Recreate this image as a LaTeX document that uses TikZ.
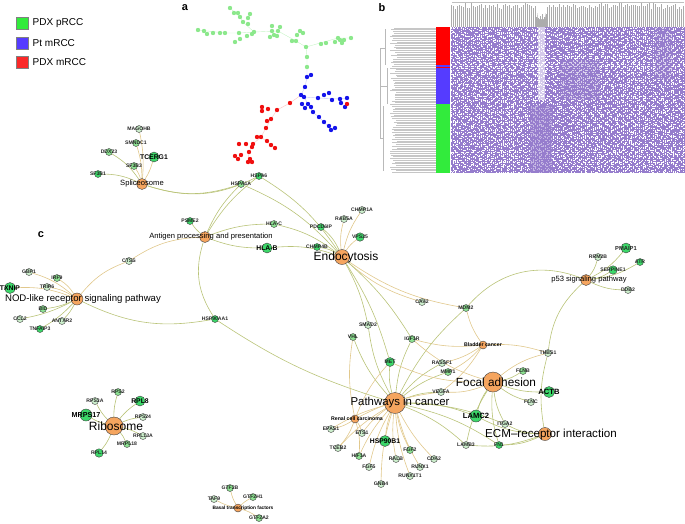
\documentclass[tikz,border=0pt]{standalone}
\usepackage{fontspec}
\setmainfont{Liberation Sans}
\usetikzlibrary{positioning}
\pgfdeclarelayer{bg}
\pgfsetlayers{bg,main}
\definecolor{glt}{RGB}{205,240,205}
\definecolor{gmd}{RGB}{140,225,145}
\definecolor{gbr}{RGB}{60,215,105}
\definecolor{orn}{RGB}{245,165,95}
\definecolor{eol}{RGB}{185,195,120}
\definecolor{etn}{RGB}{225,200,140}
\definecolor{lgreen}{RGB}{50,235,60}
\definecolor{lblue}{RGB}{85,60,255}
\definecolor{lred}{RGB}{250,40,40}
\definecolor{ptgreen}{RGB}{140,232,140}
\definecolor{ptblue}{RGB}{20,20,235}
\definecolor{ptred}{RGB}{240,15,15}
\definecolor{lav}{RGB}{150,125,205}
\tikzset{
  gene/.style={circle, draw=black!75, line width=0.4pt, fill=gmd, inner sep=0pt, minimum size=7pt},
  gbig/.style={gene, fill=gbr, minimum size=10pt},
  gtxt/.style={font=\bfseries\fontsize{5.1}{6}\selectfont, text=black!85},
  gtbig/.style={font=\bfseries\fontsize{6.8}{7}\selectfont},
  pway/.style={circle, draw=black!75, line width=0.4pt, fill=orn, inner sep=0pt, minimum size=11pt},
  ptsm/.style={font=\bfseries\fontsize{5.2}{6}\selectfont},
  ptmd/.style={font=\fontsize{7.6}{8}\selectfont},
  ptbg/.style={font=\fontsize{12}{13}\selectfont},
  edge/.style={draw=eol, line width=0.6pt},
  edget/.style={draw=etn, line width=0.6pt},
  legbox/.style={draw=black!50, line width=0.4pt, minimum size=12pt, inner sep=0pt},
  panel/.style={font=\bfseries\fontsize{11}{12}\selectfont},
}
\begin{document}
\begin{tikzpicture}[x=1pt,y=-1pt]
\useasboundingbox (0,0) rectangle (685,523);
% legend
\node[legbox, fill=lgreen] (kgreen) at (22.5,23) {};
\node[legbox, fill=lblue] (kblue) at (22.5,43) {};
\node[legbox, fill=lred] (kred) at (22.5,62) {};
\node[right=0.5pt of kgreen] (tgreen) {PDX pRCC};
\node[right=0.5pt of kblue] (tblue) {Pt mRCC};
\node[right=0.5pt of kred] (tred) {PDX mRCC};
% panel letters
\node[panel] (la) at (185,8) {a};
\node[panel] (lb) at (382,8) {b};
\node[panel] (lc) at (41,235) {c};
% panel a: tree of samples
\draw[ptgreen!50, line width=0.4pt] (307,67) -- (307,57) -- (306,47) -- (296,41) -- (278,31) -- (254,32) -- (239,33) -- (225,33) -- (198,30);
\draw[ptgreen!50, line width=0.4pt] (254,32) -- (243,22) -- (240,17) -- (230,8);
\draw[ptgreen!50, line width=0.4pt] (306,47) -- (338,38) -- (351,38);
\draw[ptblue!25, line width=0.4pt] (307,67) -- (307,77) -- (305,87) -- (301,95) -- (304,97) -- (318,98) -- (340,99) -- (347,98);
\draw[ptblue!25, line width=0.4pt] (304,97) -- (308,104) -- (313,112) -- (324,122) -- (331,130);
\draw[ptred!25, line width=0.4pt] (301,95) -- (290,103) -- (277,110) -- (271,119) -- (266,128) -- (261,137) -- (253,144) -- (249,152) -- (248,162);
\draw[ptred!25, line width=0.4pt] (261,137) -- (271,145);
\foreach \x/\y in {230/8,234/13,238/13,240/17,250/14,248/18,243/22,248/24,198/30,204/31,207/34,213/33,220/33,225/33,239/33,235/42,240/39,247/36,252/34,254/32,272/26,280/27,272/31,278/31,274/35,270/37,277/36,300/31,297/35,303/33,292/41,296/41,306/47,321/44,326/43,335/42,338/38,340/40,342/43,344/40,351/38,307/57,307/67}
  \fill[ptgreen] (\x,\y) circle (2.2);
\foreach \x/\y in {307/77,311/75,305/87,301/95,304/97,318/98,324/95,329/93,332/100,340/99,347/98,341/103,345/107,302/104,308/104,305/108,311/107,313/112,319/117,324/122,329/126,331/130,335/128}
  \fill[ptblue] (\x,\y) circle (2.2);
\foreach \x/\y in {347/104,290/103,277/110,262/107,262/111,268/109,271/119,267/121,266/128,261/137,257/137,267/141,271/145,275/148,239/144,246/144,253/144,252/147,249/152,241/155,235/156,238/159,250/159,248/162,252/162}
  \fill[ptred] (\x,\y) circle (2.2);
% panel b: heatmap
\pgfmathsetseed{11}
\fill[lav] (451,27) rectangle (685,173);
\foreach \i in {0,...,116}{
  \pgfmathsetmacro{\da}{0.6+2.5*rnd}\pgfmathsetmacro{\db}{1+3.5*rnd}
  \pgfmathsetmacro{\dc}{0.5+1.5*rnd}\pgfmathsetmacro{\dd}{1.5+5*rnd}
  \pgfmathsetmacro{\dp}{12*rnd}
  \draw[white, line width=1.1pt, dash pattern=on \da pt off \db pt on \dc pt off \dd pt, dash phase=\dp pt] (451.8+2*\i,27) -- (451.8+2*\i,173);
}
\foreach \j in {0,...,72}{
  \pgfmathsetmacro{\da}{0.8+2*rnd}\pgfmathsetmacro{\db}{3+8*rnd}
  \pgfmathsetmacro{\dp}{12*rnd}
  \draw[white, line width=0.5pt, dash pattern=on \da pt off \db pt, dash phase=\dp pt] (451,28+2*\j) -- (685,28+2*\j);
}
\fill[white, opacity=0.6] (538,27) rectangle (545,100);
\fill[lav, opacity=0.55] (530,105) rectangle (552,173);
\fill[lav, opacity=0.35] (560,60) rectangle (600,100);
\fill[lav, opacity=0.3] (655,27) rectangle (672,80);
% top dendrogram
\foreach \i in {0,...,116}{
  \pgfmathsetmacro{\ht}{3+6*rnd}
  \draw[gray!65, line width=1.3pt] (451.8+2*\i,27) -- (451.8+2*\i,\ht);
}
\fill[white] (536,3) -- (547,3) -- (545,19) -- (538,19) -- cycle;
\foreach \i in {0,...,5}
  \draw[gray!65, line width=1.3pt] (536.5+2*\i,27) -- (536.5+2*\i,{14+rnd*5});
\draw[gray!50, line width=0.5pt] (452,2.5) -- (684,2.5);
% left dendrogram
\foreach \j in {0,...,83}{
  \pgfmathsetmacro{\lx}{390+7*rnd}
  \draw[gray!45, line width=0.4pt] (\lx,27.8+1.74*\j) -- (436,27.8+1.74*\j);
}
\draw[gray!55, line width=0.4pt] (385,29) -- (385,65) (387,68) -- (387,104) (383,106) -- (383,171);
\draw[gray!55, line width=0.4pt] (380,48) -- (380,138) (380,48) -- (385,48) (380,86) -- (387,86) (380,138) -- (383,138);
% colour bar
\fill[red] (436,27) rectangle (450,65);
\fill[lblue] (436,65) rectangle (450,66.5);
\fill[red] (436,66.5) rectangle (450,68);
\fill[lblue] (436,68) rectangle (450,104);
\fill[lgreen] (436,104) rectangle (450,173);
% panel c: spliceosome
\node[gene, fill=glt, label={[gtxt]center:MAGOHB}] (magohb) at (139,129) {};
\node[gene, label={[gtxt]center:SMNDC1}] (smndc1) at (136,143) {};
\node[gene, label={[gtxt]center:DDX23}] (ddx23) at (109,152) {};
\node[gbig, label={[gtbig]center:TCERG1}] (tcerg1) at (154,157) {};
\node[gene, label={[gtxt]center:SF3B3}] (sf3b3) at (134,166) {};
\node[gene, fill=gbr, label={[gtxt]center:SF3B1}] (sf3b1) at (98,174) {};
\node[pway, label={[ptmd]center:Spliceosome}] (splic) at (142,184) {};
% antigen processing
\node[gene, fill=gbr, label={[gtxt]center:HSPA6}] (hspa6) at (259,176) {};
\node[gene, label={[gtxt]center:HSPA1A}] (hspa1a) at (241,184) {};
\node[gene, fill=gbr, label={[gtxt]center:PSME2}] (psme2) at (190,221) {};
\node[gene, label={[gtxt]center:HLA-C}] (hlac) at (274,224) {};
\node[gbig, label={[gtbig]center:HLA-B}] (hlab) at (267,248) {};
\node[gene, fill=glt, label={[gtxt]center:CTSS}] (ctss) at (129,261) {};
\node[gene, fill=gbr, label={[gtxt]center:HSP90AA1}] (hsp90aa1) at (215,319) {};
\node[pway, label={[ptmd, xshift=6pt]center:Antigen processing and presentation}] (antigen) at (205,237) {};
% endocytosis
\node[gene, fill=gbr, label={[gtxt]center:PDCD6IP}] (pdcd6ip) at (321,227) {};
\node[gene, fill=glt, label={[gtxt]center:RAB5A}] (rab5a) at (344,219) {};
\node[gene, fill=glt, label={[gtxt]center:CHMP1A}] (chmp1a) at (362,210) {};
\node[gene, fill=gbr, minimum size=8.5pt, label={[gtxt]center:VPS25}] (vps25) at (360,237) {};
\node[gene, fill=gbr, label={[gtxt]center:CHMP4B}] (chmp4b) at (317,247) {};
\node[pway, minimum size=15pt, label={[ptbg, xshift=4pt]center:Endocytosis}] (endo) at (342,257) {};
% NOD-like receptor signaling
\node[gene, fill=glt, label={[gtxt]center:GBP1}] (gbp1) at (29,272) {};
\node[gene, label={[gtxt]center:IRF9}] (irf9) at (57,278) {};
\node[gbig, minimum size=11pt, label={[gtbig]center:TXNIP}] (txnip) at (10,288) {};
\node[gene, fill=glt, label={[gtxt]center:TRIP6}] (trip6) at (47,287) {};
\node[gene, label={[gtxt]center:BID}] (bid) at (43,309) {};
\node[gene, fill=glt, label={[gtxt]center:CCL2}] (ccl2) at (20,319) {};
\node[gene, fill=glt, label={[gtxt]center:ANTXR2}] (antxr2) at (62,321) {};
\node[gene, fill=gbr, label={[gtxt]center:TNFAIP3}] (tnfaip3) at (40,329) {};
\node[pway, minimum size=12pt, label={[font=\fontsize{9.6}{10}\selectfont, xshift=6pt]center:NOD-like receptor signaling pathway}] (nod) at (77,299) {};
% p53 signaling
\node[gbig, label={[gtxt, font=\bfseries\fontsize{5.8}{6}\selectfont]center:PMAIP1}] (pmaip1) at (626,248) {};
\node[gene, fill=glt, label={[gtxt]center:RRM2B}] (rrm2b) at (598,257) {};
\node[gene, fill=gbr, label={[gtxt]center:ATR}] (atr) at (640,262) {};
\node[gene, fill=gbr, minimum size=8.5pt, label={[gtxt]center:SERPINE1}] (serpine1) at (613,270) {};
\node[gene, fill=glt, label={[gtxt]center:DDB2}] (ddb2) at (628,290) {};
\node[pway, label={[ptmd, xshift=3pt]center:p53 signaling pathway}] (p53) at (586,280) {};
% pathways in cancer and neighbours
\node[gene, fill=glt, label={[gtxt]center:CAV2}] (cav2) at (422,302) {};
\node[gene, label={[gtxt]center:MDM2}] (mdm2) at (466,308) {};
\node[gene, fill=glt, label={[gtxt]center:SMAD2}] (smad2) at (368,325) {};
\node[gene, label={[gtxt]center:VHL}] (vhl) at (353,337) {};
\node[gene, label={[gtxt]center:IGF1R}] (igf1r) at (412,339) {};
\node[gene, fill=glt, label={[gtxt]center:THBS1}] (thbs1) at (548,353) {};
\node[gene, fill=gbr, minimum size=9pt, label={[gtxt]center:MET}] (met) at (390,362) {};
\node[gene, fill=glt, label={[gtxt]center:RASSF1}] (rassf1) at (442,363) {};
\node[gene, label={[gtxt]center:MMP1}] (mmp1) at (448,372) {};
\node[gene, label={[gtxt]center:FLNB}] (flnb) at (523,371) {};
\node[gbig, minimum size=11pt, label={[gtbig, font=\bfseries\fontsize{7.6}{8}\selectfont]center:ACTB}] (actb) at (549,392) {};
\node[gene, fill=glt, label={[gtxt]center:VEGFA}] (vegfa) at (441,392) {};
\node[gene, fill=glt, label={[gtxt]center:FLNC}] (flnc) at (531,402) {};
\node[gbig, minimum size=12pt, label={[gtbig, font=\bfseries\fontsize{7.6}{8}\selectfont]center:LAMC2}] (lamc2) at (476,416) {};
\node[gene, fill=glt, label={[gtxt]center:ITGA2}] (itga2) at (505,424) {};
\node[gene, fill=glt, label={[gtxt]center:EPAS1}] (epas1) at (331,429) {};
\node[gene, fill=glt, label={[gtxt]center:ETS1}] (ets1) at (362,433) {};
\node[gbig, minimum size=11pt, label={[gtbig]center:HSP90B1}] (hsp90b1) at (385,441) {};
\node[gene, fill=glt, label={[gtxt]center:LAMB3}] (lamb3) at (466,445) {};
\node[gene, fill=gbr, label={[gtxt]center:FN1}] (fn1) at (499,445) {};
\node[gene, fill=glt, label={[gtxt]center:TCEB2}] (tceb2) at (338,448) {};
\node[gene, label={[gtxt]center:FGF2}] (fgf2) at (410,450) {};
\node[gene, fill=glt, label={[gtxt]center:CDK2}] (cdk2) at (434,459) {};
\node[gene, label={[gtxt]center:HIF1A}] (hif1a) at (359,456) {};
\node[gene, fill=glt, label={[gtxt]center:RALB}] (ralb) at (396,459) {};
\node[gene, fill=glt, label={[gtxt]center:FGF5}] (fgf5) at (369,467) {};
\node[gene, fill=glt, label={[gtxt]center:RUNX1}] (runx1) at (420,467) {};
\node[gene, fill=glt, label={[gtxt]center:RUNX1T1}] (runx1t1) at (410,476) {};
\node[gene, fill=glt, label={[gtxt]center:GNB4}] (gnb4) at (381,484) {};
\node[pway, minimum size=8pt, label={[ptsm]center:Bladder cancer}] (bladder) at (483,345) {};
\node[pway, minimum size=8pt, label={[ptsm, xshift=2pt]center:Renal cell carcinoma}] (rcc) at (355,419) {};
\node[pway, minimum size=20pt, label={[ptbg, font=\fontsize{11.8}{12}\selectfont, xshift=3pt]center:Focal adhesion}] (focal) at (493,382) {};
\node[pway, minimum size=21pt, label={[ptbg, font=\fontsize{11.4}{12}\selectfont, xshift=5pt]center:Pathways in cancer}] (pic) at (395,403) {};
\node[pway, minimum size=13pt, label={[ptbg, font=\fontsize{11.6}{12}\selectfont, xshift=6pt]center:ECM–receptor interaction}] (ecm) at (545,434) {};
% ribosome
\node[gene, label={[gtxt]center:RPS2}] (rps2) at (118,392) {};
\node[gene, fill=glt, label={[gtxt]center:RPS3A}] (rps3a) at (95,401) {};
\node[gbig, label={[gtbig]center:RPL8}] (rpl8) at (140,401) {};
\node[gbig, minimum size=12pt, label={[gtbig, font=\bfseries\fontsize{7.2}{8}\selectfont]center:MRPS17}] (mrps17) at (86,415) {};
\node[gene, fill=glt, label={[gtxt]center:RPS24}] (rps24) at (143,417) {};
\node[gene, fill=glt, label={[gtxt]center:RPL13A}] (rpl13a) at (143,436) {};
\node[gene, label={[gtxt]center:MRPL18}] (mrpl18) at (127,444) {};
\node[gene, fill=gbr, minimum size=8.5pt, label={[gtxt]center:RPL14}] (rpl14) at (99,453) {};
\node[pway, minimum size=18pt, label={[ptbg, xshift=2pt]center:Ribosome}] (ribo) at (114,426) {};
% basal transcription factors
\node[gene, label={[gtxt]center:GTF2B}] (gtf2b) at (230,488) {};
\node[gene, label={[gtxt]center:GTF2H1}] (gtf2h1) at (253,497) {};
\node[gene, fill=glt, label={[gtxt]center:TAF9}] (taf9) at (214,499) {};
\node[gene, label={[gtxt]center:GTF2A2}] (gtf2a2) at (259,518) {};
\node[pway, minimum size=8pt, label={[ptsm, font=\bfseries\fontsize{4.8}{5}\selectfont, xshift=5pt]center:Basal transcription factors}] (basal) at (238,508) {};
% connectors
\begin{pgfonlayer}{bg}
\foreach \g in {magohb,smndc1,tcerg1,sf3b3} \draw[edget] (splic) to[bend right=8] (\g);
\foreach \g in {ddx23,sf3b1} \draw[edge] (splic) to[bend right=12] (\g);
\draw[edge] (splic) to[bend right=22] (hspa6);
\draw[edge] (splic) to[bend right=18] (hspa1a);
\foreach \g in {hspa6,hspa1a,hlac} \draw[edge] (antigen) to[bend left=10] (\g);
\draw[edge] (antigen) to[bend left=8] (psme2);
\draw[edge] (antigen) to[bend right=10] (hlab);
\draw[edget] (antigen) to[bend right=15] (ctss);
\draw[edge] (antigen) to[bend right=25] (hsp90aa1);
\foreach \g in {hspa6,hspa1a,hlac,hlab,pdcd6ip,chmp4b} \draw[edge] (endo) to[bend right=12] (\g);
\foreach \g in {rab5a,chmp1a,vps25} \draw[edget] (endo) to[bend left=10] (\g);
\foreach \g in {cav2,mdm2} \draw[edget] (endo) to[bend right=12] (\g);
\foreach \g in {smad2,igf1r,met} \draw[edge] (endo) to[bend left=8] (\g);
\foreach \g in {gbp1,irf9,txnip,trip6} \draw[edget] (nod) to[bend right=12] (\g);
\foreach \g in {bid,ccl2,antxr2,tnfaip3} \draw[edge] (nod) to[bend left=8] (\g);
\draw[edget] (nod) to[bend left=15] (ctss);
\draw[edge] (nod) to[bend right=18] (hsp90aa1);
\draw[edge] (hsp90aa1) to[bend right=8] (pic);
\foreach \g in {pmaip1,rrm2b,atr,serpine1,ddb2} \draw[edge] (p53) to[bend right=12] (\g);
\draw[edge] (p53) to[bend right=35] (mdm2);
\draw[edge] (p53) to[bend right=20] (thbs1);
\foreach \g in {mdm2,thbs1,rassf1,mmp1,vegfa,igf1r} \draw[edget] (bladder) to[bend left=10] (\g);
\foreach \g in {vhl,igf1r,met,rassf1,mmp1,vegfa,lamc2,lamb3,fn1,mdm2,smad2,itga2} \draw[edge] (pic) to[bend left=10] (\g);
\foreach \g in {epas1,ets1,hsp90b1,tceb2,fgf2,cdk2,hif1a,ralb,runx1,fgf5,runx1t1,gnb4} \draw[edget] (pic) to[bend right=8] (\g);
\foreach \g in {met,epas1,ets1,tceb2,hif1a,vegfa,vhl} \draw[edget] (rcc) to[bend left=10] (\g);
\foreach \g in {flnb,actb,flnc,lamc2,lamb3,fn1,itga2} \draw[edge] (focal) to[bend right=10] (\g);
\foreach \g in {thbs1,met,vegfa,igf1r} \draw[edget] (focal) to[bend left=12] (\g);
\foreach \g in {lamc2,itga2,lamb3,fn1,thbs1} \draw[edge] (ecm) to[bend left=12] (\g);
\foreach \g in {rps2,rps3a,rpl8,mrps17,rps24,rpl13a,mrpl18,rpl14} \draw[edge] (ribo) to[bend left=8] (\g);
\foreach \g in {gtf2b,gtf2h1,taf9,gtf2a2} \draw[edget] (basal) to[bend left=8] (\g);
\end{pgfonlayer}
\end{tikzpicture}
\end{document}
